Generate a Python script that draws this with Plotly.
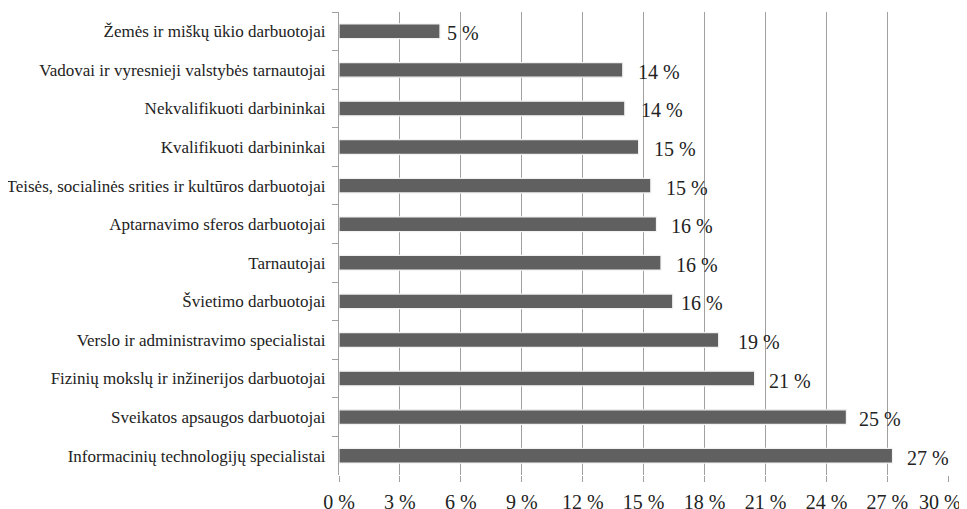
import plotly.graph_objects as go

categories = [
    "Žemės ir miškų ūkio darbuotojai",
    "Vadovai ir vyresnieji valstybės tarnautojai",
    "Nekvalifikuoti darbininkai",
    "Kvalifikuoti darbininkai",
    "Teisės, socialinės srities ir kultūros darbuotojai",
    "Aptarnavimo sferos darbuotojai",
    "Tarnautojai",
    "Švietimo darbuotojai",
    "Verslo ir administravimo specialistai",
    "Fizinių mokslų ir inžinerijos darbuotojai",
    "Sveikatos apsaugos darbuotojai",
    "Informacinių technologijų specialistai",
]
values = [4.97, 13.97, 14.07, 14.75, 15.35, 15.63, 15.85, 16.43, 18.69, 20.46, 24.98, 27.25]
labels = ["5 %", "14 %", "14 %", "15 %", "15 %", "16 %", "16 %", "16 %", "19 %", "21 %", "25 %", "27 %"]
tick_vals = [0, 3, 6, 9, 12, 15, 18, 21, 24, 27, 30]
tick_text = ["0 %", "3 %", "6 %", "9 %", "12 %", "15 %", "18 %", "21 %", "24 %", "27 %", "30 %"]

# label pixel offsets from bar end (styling only)
label_dx = [5, 13, 14, 13, 13, 13, 13, 6, 17, 12, 11, 12]

FONT = "Liberation Serif"

fig = go.Figure()
fig.add_trace(go.Bar(
    y=categories, x=values, orientation="h",
    marker=dict(color="#606060", line=dict(color="#f2f2f2", width=1.2)),
    width=0.38,
    hoverinfo="skip",
))

for c, v, t, dx in zip(categories, values, labels, label_dx):
    fig.add_annotation(x=v, y=c, text=t, showarrow=False, xanchor="left",
                       xshift=dx, yshift=-2, font=dict(family=FONT, size=20, color="#222"))

# last tick label drawn shifted left so it stays inside the window (as in the reference)
shown_ticks = tick_text[:-1] + [""]
fig.add_annotation(x=tick_vals[-1], y=0, xref="x", yref="paper", text=tick_text[-1],
                   showarrow=False, xanchor="center", yanchor="top", xshift=-8, yshift=-14,
                   font=dict(family=FONT, size=20, color="#222"))

fig.update_layout(
    width=975, height=509,
    margin=dict(l=331, r=34, t=4, b=42, autoexpand=False),
    paper_bgcolor="white", plot_bgcolor="white",
    showlegend=False,
    font=dict(family=FONT, color="#222"),
    xaxis=dict(range=[0, 30.03], tickvals=tick_vals, ticktext=shown_ticks,
               showgrid=True, gridcolor="#a0a0a0", gridwidth=1.3,
               ticks="outside", ticklen=6, tickcolor="#a0a0a0",
               tickfont=dict(family=FONT, size=20, color="#222"),
               ticklabelstandoff=3,
               zeroline=False, showline=False, automargin=False),
    yaxis=dict(autorange="reversed", tickson="boundaries", ticks="outside",
               ticklen=6, tickcolor="#a0a0a0", showline=True, linecolor="#a0a0a0",
               linewidth=1.3, showgrid=False, automargin=False,
               tickfont=dict(family=FONT, size=17, color="#222"), ticklabelstandoff=9),
)

fig.write_html("out.html")
